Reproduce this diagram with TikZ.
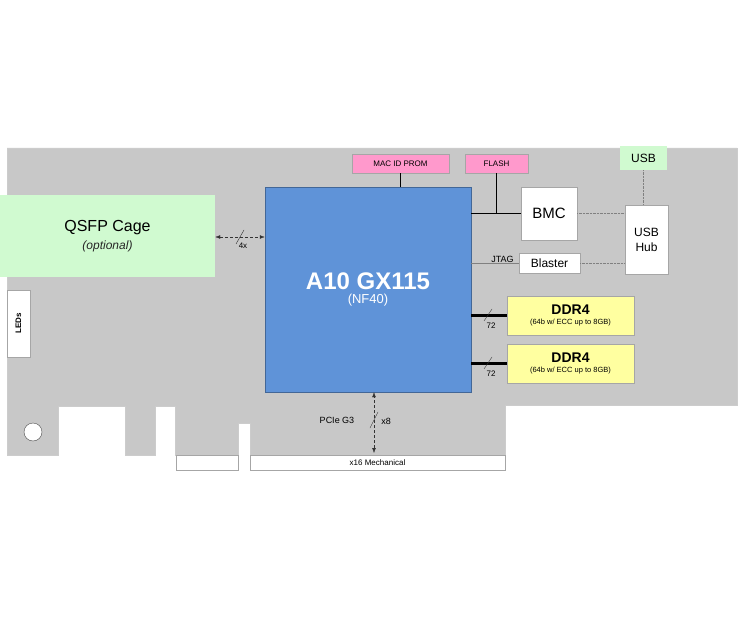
\documentclass[tikz,border=0pt]{standalone}
\usepackage{fontspec}
\setmainfont{Liberation Sans}
\usetikzlibrary{positioning,arrows.meta}
\definecolor{boardgray}{RGB}{200,200,200}
\definecolor{fpgablue}{RGB}{95,147,216}
\definecolor{qsfpgreen}{RGB}{208,250,208}
\definecolor{memyellow}{RGB}{255,255,160}
\definecolor{prompink}{RGB}{255,153,204}
\begin{document}
\begin{tikzpicture}[x=1pt, y=-1pt,
    block/.style={rectangle, draw=gray!70, fill=white, inner sep=0pt},
    pinkbox/.style={block, fill=prompink, font=\fontsize{8}{9}\selectfont},
    membox/.style={block, fill=memyellow, align=center},
    bus/.style={line width=2.2pt},
    ctrl/.style={line width=1.2pt},
    dbg/.style={gray, densely dotted, thin},
    link/.style={{Latex[length=5pt]}-{Latex[length=5pt]}, densely dashed, thin, gray!40!black},
    lbl/.style={font=\fontsize{8}{9}\selectfont, inner sep=1pt}
]
\useasboundingbox (0,0) rectangle (738,620);

% Board outline
\fill[boardgray, draw=gray!40] (7,148) -- (737,148) -- (737,405) -- (505,405) -- (505,455)
  -- (250,455) -- (250,423) -- (238,423) -- (238,455) -- (175,455) -- (175,406)
  -- (155,406) -- (155,455) -- (125,455) -- (125,406) -- (58,406) -- (58,455)
  -- (7,455) -- cycle;
\node[block, minimum width=62pt, minimum height=15pt] (finga) at (207,462.5) {};
\node[block, minimum width=255pt, minimum height=15pt, font=\fontsize{8}{9}\selectfont] (fingb) at (377.5,462.5) {x16 Mechanical};
\node[circle, draw=gray!60!black, fill=white, minimum size=18pt, inner sep=0pt] (hole) at (33,432) {};

% Front panel
\node[rectangle, fill=qsfpgreen, minimum width=215pt, minimum height=82pt, align=center,
      font=\fontsize{16}{20}\selectfont] (qsfp) at (107.5,236) {QSFP Cage\\[-2pt]{\fontsize{12}{14}\selectfont\itshape\color{gray!30!black}(optional)}};
\node[block, minimum width=23pt, minimum height=67pt] (leds) at (18.5,323.5) {};
\node[rotate=90, font=\bfseries\fontsize{8}{9}\selectfont] at (leds.center) {LEDs};

% FPGA
\node[rectangle, draw=fpgablue!70!black, fill=fpgablue, minimum width=206pt, minimum height=205pt,
      text=white, align=center] (fpga) at (368,289.5)
      {{\bfseries\fontsize{24}{28}\selectfont A10 GX115}\\[2pt]{\fontsize{13}{15}\selectfont (NF40)}};

% Config parts
\node[pinkbox, minimum width=97pt, minimum height=19pt] (prom) at (400.5,163.5) {MAC ID PROM};
\node[pinkbox, minimum width=63pt, minimum height=19pt] (flash) at (496.5,163.5) {FLASH};
\node[block, minimum width=56pt, minimum height=53pt, font=\fontsize{15}{18}\selectfont] (bmc) at (549,213.5) {BMC};
\node[block, minimum width=61pt, minimum height=20pt, font=\fontsize{12}{14}\selectfont] (blaster) at (549.5,263) {Blaster};
\node[block, minimum width=43pt, minimum height=69pt, align=center, font=\fontsize{12}{15}\selectfont] (hub) at (646.5,239.5) {USB\\Hub};
\node[rectangle, fill=qsfpgreen, minimum width=47pt, minimum height=24pt, font=\fontsize{12}{14}\selectfont] (usb) at (643.5,158) {USB};

% Memory
\node[membox, minimum width=127pt, minimum height=39pt] (ddra) at (570.5,315.5)
  {{\bfseries\fontsize{14}{16}\selectfont DDR4}\\[-2pt]{\fontsize{7.5}{9}\selectfont (64b w/ ECC up to 8GB)}};
\node[membox, minimum width=127pt, minimum height=39pt] (ddrb) at (570.5,363.5)
  {{\bfseries\fontsize{14}{16}\selectfont DDR4}\\[-2pt]{\fontsize{7.5}{9}\selectfont (64b w/ ECC up to 8GB)}};

% Connections
\draw[ctrl] (prom) -- (prom.south |- fpga.north);
\draw[ctrl] (fpga.east |- bmc.west) -- (bmc.west);
\draw[ctrl] (flash.south) -- (flash.south |- bmc.west);
\draw[dbg] (bmc.east) -- (bmc.east -| hub.west);
\draw[dbg] (blaster.east) -- (blaster.east -| hub.west);
\draw[dbg] (usb.south) -- (usb.south |- hub.north);
\draw[gray, thin] (fpga.east |- blaster.west) -- (blaster.west);
\node[lbl, above left=-1pt and 4pt of blaster.west, font=\fontsize{9}{10}\selectfont] (jtag) {JTAG};

\draw[bus] (fpga.east |- ddra.west) -- (ddra.west);
\draw[thin, gray!40!black] (484,321) -- (492,309);
\node[lbl] (wa) at (491,326) {72};
\draw[bus] (fpga.east |- ddrb.west) -- (ddrb.west);
\draw[thin, gray!40!black] (484,369) -- (492,357);
\node[lbl] (wb) at (491,374) {72};

\coordinate (qport) at (qsfp.east |- 0,237);
\draw[link] (qport) -- (qport -| fpga.west);
\draw[thin, gray!40!black] (236,244) -- (244,230);
\node[lbl] (qw) at (243,246) {4x};

\coordinate (pport) at (374,453);
\draw[link] (pport) -- (pport |- fpga.south);
\draw[thin, gray!40!black] (370,428) -- (378,412);
\node[lbl, font=\fontsize{9}{10}\selectfont] (pcie) at (337,420) {PCIe G3};
\node[lbl, font=\fontsize{9}{10}\selectfont] (pw) at (386,421) {x8};
\end{tikzpicture}
\end{document}
